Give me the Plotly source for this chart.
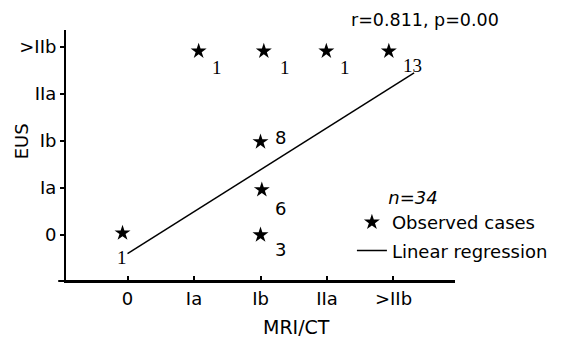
import plotly.graph_objects as go

# Data
x_labels = ["0", "Ia", "Ib", "IIa", ">IIb"]
y_labels = ["0", "Ia", "Ib", "IIa", ">IIb"]
obs_x = [-0.075, 1.07, 2.05, 2.99, 3.93, 2.0, 2.02, 2.0]
obs_y = [0.04, 3.91, 3.91, 3.91, 3.91, 1.98, 0.96, 0.0]
counts = ["1", "1", "1", "1", "13", "8", "6", "3"]
reg_x = [0.0, 4.31]
reg_y = [-0.40, 3.45]
stat_text = "r=0.811, p=0.00"
n_text = "<i>n=34</i>"
x_title = "MRI/CT"
y_title = "EUS"

sans = "DejaVu Sans"
serif = "Liberation Serif"

fig = go.Figure()
fig.add_trace(go.Scatter(
    x=obs_x, y=obs_y, mode="markers", name="Observed cases",
    marker=dict(symbol="star", size=12, color="black"),
    legendgroup="a", cliponaxis=False,
))
fig.add_trace(go.Scatter(
    x=reg_x, y=reg_y, mode="lines", name="Linear regression",
    line=dict(color="black", width=1.5), legendgroup="b", cliponaxis=False,
))

# count label offsets (pixels) relative to each star
offsets = [(-1, -24), (18, -16), (21, -16), (19, -16), (24, -14), (20, 4), (19, -19), (20, -15)]
for xv, yv, c, (dx, dy) in zip(obs_x, obs_y, counts, offsets):
    if c in ("1", "13"):
        fnt = dict(family=serif, size=19, color="black")
    else:
        fnt = dict(family=sans, size=18, color="black")
    fig.add_annotation(x=xv, y=yv, text=c, showarrow=False, xshift=dx, yshift=dy, font=fnt)

fig.add_annotation(xref="paper", yref="paper", x=0.923, y=1.04, xanchor="center",
                   yanchor="middle", text=stat_text, showarrow=False,
                   font=dict(family=sans, size=17.5, color="black"))
fig.add_annotation(xref="paper", yref="paper", x=0.592, y=-0.183, xanchor="center",
                   yanchor="middle", text=x_title, showarrow=False,
                   font=dict(family=sans, size=19, color="black"))
fig.add_annotation(xref="paper", yref="paper", x=-0.112, y=0.558, xanchor="center",
                   yanchor="middle", text=y_title, showarrow=False, textangle=-90,
                   font=dict(family=sans, size=18, color="black"))

# x-axis line extension to the left of y-axis
fig.add_shape(type="line", xref="paper", yref="paper", x0=-0.02, x1=1.0, y0=0, y1=0,
              line=dict(color="black", width=2))

# page body has an 8px margin, so the figure is 8px smaller to fit the window
fig.update_layout(
    width=557, height=334,
    margin=dict(l=58, r=107, t=22, b=61),
    paper_bgcolor="white", plot_bgcolor="white",
    font=dict(family=sans, size=18, color="black"),
    showlegend=True,
    legend=dict(
        x=0.735, y=0.40, xanchor="left", yanchor="top",
        bgcolor="rgba(0,0,0,0)",
        font=dict(family=sans, size=18, color="black"),
        title=dict(text="&nbsp;" * 6 + n_text, font=dict(family=sans, size=18)),
        tracegroupgap=2, itemwidth=30,
    ),
    xaxis=dict(
        range=[-0.925, 4.925], tickmode="array", tickvals=list(range(5)), ticktext=x_labels,
        showline=True, linecolor="black", linewidth=2, ticks="inside", ticklen=5,
        tickwidth=2, tickcolor="black", showgrid=False, zeroline=False, automargin=False,
        tickfont=dict(family=sans, size=18),
    ),
    yaxis=dict(
        range=[-0.98, 4.36], tickmode="array", tickvals=list(range(5)), ticktext=y_labels,
        showline=True, linecolor="black", linewidth=2, ticks="outside", ticklen=4,
        tickwidth=2, tickcolor="black", showgrid=False, zeroline=False, automargin=False,
        tickfont=dict(family=sans, size=18),
    ),
)

fig.write_html("out.html")
